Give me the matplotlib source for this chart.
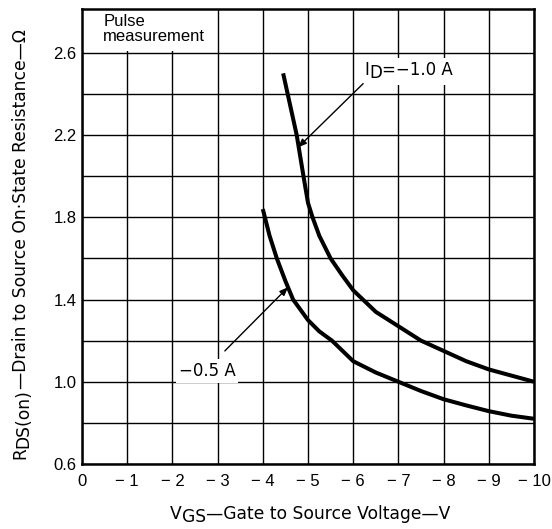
import matplotlib
matplotlib.use("Agg")
import matplotlib.pyplot as plt
from matplotlib.patches import Rectangle
from matplotlib.transforms import IdentityTransform, Bbox

plt.rcParams['font.family'] = ['Liberation Sans', 'DejaVu Sans']

# Data
vgs_1a = [-4.45, -4.6, -4.75, -4.9, -5.0, -5.1, -5.25, -5.5, -5.75, -6.0, -6.5, -7.0, -7.5, -8.0, -8.5, -9.0, -9.5, -10.0]
rds_1a = [2.50, 2.35, 2.20, 2.00, 1.87, 1.80, 1.71, 1.60, 1.52, 1.445, 1.34, 1.27, 1.20, 1.15, 1.10, 1.06, 1.03, 1.00]

vgs_05a = [-4.0, -4.15, -4.31, -4.5, -4.67, -5.0, -5.25, -5.53, -6.0, -6.5, -7.0, -7.5, -8.0, -8.5, -9.0, -9.5, -10.0]
rds_05a = [1.84, 1.71, 1.60, 1.49, 1.40, 1.30, 1.245, 1.20, 1.10, 1.045, 1.00, 0.955, 0.915, 0.885, 0.857, 0.835, 0.82]

x_ticks = [0, -1, -2, -3, -4, -5, -6, -7, -8, -9, -10]
x_tick_labels = ["0", "− 1", "− 2", "− 3", "− 4", "− 5", "− 6", "− 7", "− 8", "− 9", "− 10"]
y_major = [0.6, 1.0, 1.4, 1.8, 2.2, 2.6]
y_major_labels = ["0.6", "1.0", "1.4", "1.8", "2.2", "2.6"]
y_minor = [0.8, 1.2, 1.6, 2.0, 2.4]

W, H = 552, 529
fig = plt.figure(figsize=(W / 100, H / 100), dpi=100)
ax = fig.add_axes([82/W, 1-464/H, 452/W, 455/H])
ax.set_xlim(0, -10)
ax.set_ylim(0.6, 2.813)

ax.set_xticks(x_ticks)
ax.set_xticklabels(x_tick_labels, fontsize=12)
ax.set_yticks(y_major)
ax.set_yticklabels(y_major_labels, fontsize=12)
ax.set_yticks(y_minor, minor=True)
ax.tick_params(axis='both', which='both', length=0)
ax.tick_params(axis='x', pad=7)
ax.tick_params(axis='y', pad=4)
ax.grid(True, which='both', color='black', linewidth=1.0, zorder=1)
ax.set_axisbelow(True)
for s in ax.spines.values():
    s.set_linewidth(1.8)
    s.set_zorder(5)

# blank out the grid in the "Pulse measurement" corner
ax.add_patch(Rectangle((0, 2.607), -2.96, 0.2, facecolor='white', edgecolor='none', zorder=2))
ax.text(-0.47, 2.79, "Pulse\nmeasurement", fontsize=12, ha='left', va='top', linespacing=1.0, zorder=3)

ax.plot(vgs_1a, rds_1a, color='black', linewidth=2.9, zorder=4, solid_capstyle='butt')
ax.plot(vgs_05a, rds_05a, color='black', linewidth=2.9, zorder=4, solid_capstyle='butt')

arrow = dict(arrowstyle='-|>,head_length=0.5,head_width=0.2', color='black', lw=1.0, shrinkA=0, shrinkB=0)
ax.annotate("", xy=(-4.78, 2.14), xytext=(-6.22, 2.45), arrowprops=arrow, zorder=4)
ax.annotate("", xy=(-4.56, 1.46), xytext=(-3.16, 1.15), arrowprops=arrow, zorder=4)

renderer = fig.canvas.get_renderer()
LABEL_FONT = ['DejaVu Sans']


def pieces_text(pieces, start_px, baseline_px, fontsize, rotated=False, center=True, bg=False):
    """Place text pieces (string, subscript-drop in px) one after the other along a baseline."""
    texts = []
    for s, drop in pieces:
        t = fig.text(0, 0, s, fontsize=fontsize, family=LABEL_FONT, rotation=90 if rotated else 0,
                     rotation_mode='anchor', ha='left', va='baseline', zorder=6)
        texts.append((t, drop))
    lens = []
    for t, _ in texts:
        e = t.get_window_extent(renderer)
        lens.append(e.height if rotated else e.width)
    total = sum(lens)
    pos = start_px - total / 2 if center else start_px
    if rotated:
        pos = start_px + total / 2 if center else start_px
    for (t, drop), L in zip(texts, lens):
        if rotated:
            t.set_position(((baseline_px + drop) / W, 1 - pos / H))
            pos -= L
        else:
            t.set_position((pos / W, 1 - (baseline_px + drop) / H))
            pos += L
    if bg:
        boxes = [t.get_window_extent(renderer) for t, _ in texts]
        bb = Bbox.union(boxes).padded(3)
        r = Rectangle((bb.x0, bb.y0), bb.width, bb.height, transform=IdentityTransform(),
                      facecolor='white', edgecolor='none', zorder=2.5)
        ax.add_patch(r)
    return texts


# axis labels
pieces_text([("V", 0), ("GS", 3.5), ("—Gate to Source Voltage—V", 0)], 310, 519, 12.3)
pieces_text([("R", 0), ("DS(on)", 3), ("—Drain to Source On·State Resistance—Ω", 0)], 244, 25.5, 12.3, rotated=True)

# curve labels
pieces_text([("I", 0), ("D", 3), ("=−1.0 A", 0)], 409, 75, 12, bg=True)
pieces_text([("−0.5 A", 0)], 207, 376, 12, bg=True)

fig.savefig("out.png", dpi=100)
